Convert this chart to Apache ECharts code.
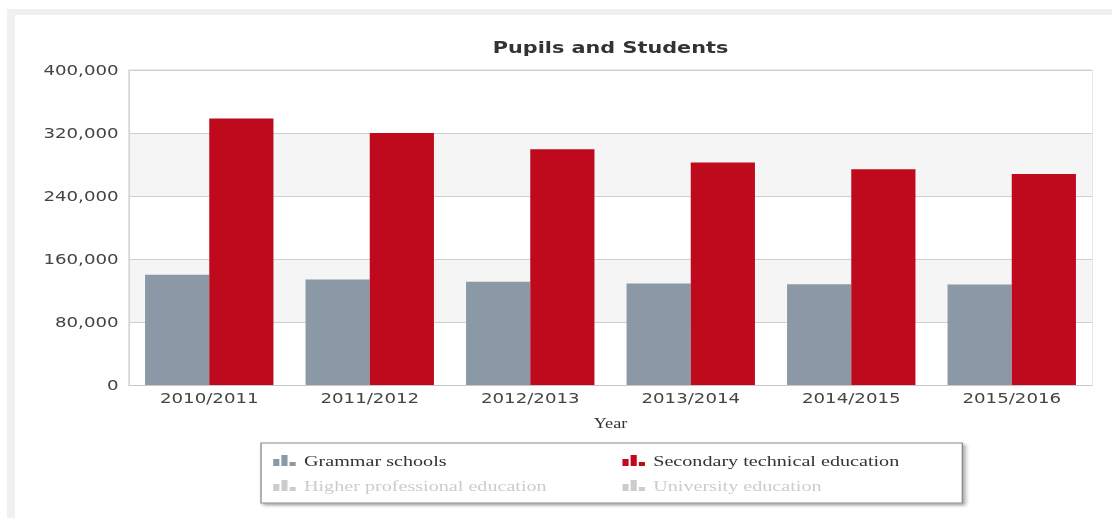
<!DOCTYPE html>
<html>
<head>
<meta charset="utf-8">
<script src="https://cdn.jsdelivr.net/npm/echarts@6/dist/echarts.min.js"></script>
<style>
  html, body { margin: 0; padding: 0; background: #ffffff; width: 1112px; height: 518px; overflow: hidden; }
  #frame { position: absolute; left: 7px; top: 9px; right: 0; bottom: 0; border-top: 6px solid #f0f0f0; border-left: 8px solid #f0f0f0; }
  #chart { position: absolute; left: 0; top: 0; height: 518px; transform-origin: 0 0; }
</style>
</head>
<body>
<div id="frame"></div>
<div id="chart"></div>
<script>
// ---- data ----
const categories = ['2010/2011', '2011/2012', '2012/2013', '2013/2014', '2014/2015', '2015/2016'];
const grammarSchools = [140000, 134000, 131000, 129000, 128000, 127500];
const secondaryTechnical = [338500, 320000, 299500, 282500, 274000, 268000];
const higherProfessional = [];
const universityEducation = [];
const seriesNames = ['Grammar schools', 'Secondary technical education', 'Higher professional education', 'University education'];
const yTicks = { min: 0, max: 400000, interval: 80000 };

// ---- layout (the reference is horizontally stretched) ----
const STRETCH = 1.3;
const W = 1112 / STRETCH;
const el = document.getElementById('chart');
el.style.width = W + 'px';
el.style.transform = 'scaleX(' + STRETCH + ')';

const chart = echarts.init(el, null, { renderer: 'svg', width: W, height: 518 });
const sx = x => x / STRETCH;

const barIcon = 'path://M0,5h6v9h-6z M8,0h6v14h-6z M16,9h6v5h-6z';
const gridLeft = sx(129), gridRight = W - sx(1092);

chart.setOption({
  animation: false,
  backgroundColor: 'transparent',
  title: {
    text: 'Pupils and Students',
    left: (sx(129) + sx(1092)) / 2,
    textAlign: 'center',
    top: 39,
    padding: 0,
    textStyle: { fontFamily: 'DejaVu Sans', fontSize: 16, fontWeight: 'bold', color: '#333' }
  },
  grid: {
    left: gridLeft, right: gridRight, top: 70, bottom: 518 - 385,
    show: true, borderColor: '#dadada', borderWidth: 1, backgroundColor: 'transparent'
  },
  xAxis: {
    type: 'category',
    data: categories,
    name: 'Year',
    nameLocation: 'middle',
    nameGap: 32,
    nameTextStyle: { fontFamily: 'Liberation Serif', fontSize: 14, color: '#333' },
    axisLine: { show: true, lineStyle: { color: '#c8c8c8', width: 1 } },
    axisTick: { show: false },
    axisLabel: { fontFamily: 'DejaVu Sans', fontSize: 14, color: '#444', margin: 6 },
    splitLine: { show: false }
  },
  yAxis: {
    type: 'value',
    min: yTicks.min, max: yTicks.max, interval: yTicks.interval,
    axisLine: { show: true, lineStyle: { color: '#d6d6d6' } },
    axisTick: { show: false },
    axisLabel: { fontFamily: 'DejaVu Sans', fontSize: 14, color: '#444', margin: 8 },
    splitLine: { show: true, lineStyle: { color: '#cfcfcf', width: 1 } },
    splitArea: { show: true, areaStyle: { color: ['#ffffff', '#f5f5f5'] } }
  },
  legend: {
    left: sx(261),
    top: 443,
    width: 545,
    orient: 'horizontal',
    itemWidth: 20,
    itemHeight: 11,
    itemGap: 9,
    padding: [9.5, 1.8, 9.5, 9.4],
    borderColor: '#8a8a8a',
    borderWidth: 1,
    backgroundColor: '#ffffff',
    shadowColor: 'rgba(0,0,0,0.35)',
    shadowBlur: 3,
    shadowOffsetX: 2,
    shadowOffsetY: 2,
    inactiveColor: '#cccccc',
    icon: barIcon,
    data: seriesNames,
    selected: { 'Higher professional education': false, 'University education': false },
    textStyle: { fontFamily: 'Liberation Serif', fontSize: 15.5, color: '#333', width: 236, overflow: 'truncate', lineHeight: 15 }
  },
  series: [
    { name: seriesNames[0], type: 'bar', data: grammarSchools, itemStyle: { color: '#8a99a5' }, barGap: '0%', barCategoryGap: '20%' },
    { name: seriesNames[1], type: 'bar', data: secondaryTechnical, itemStyle: { color: '#bf0a1e' }, barGap: '0%', barCategoryGap: '20%' },
    { name: seriesNames[2], type: 'bar', data: higherProfessional, itemStyle: { color: '#9aa5ae' }, barGap: '0%', barCategoryGap: '20%' },
    { name: seriesNames[3], type: 'bar', data: universityEducation, itemStyle: { color: '#b0b8bf' }, barGap: '0%', barCategoryGap: '20%' }
  ]
});
</script>
</body>
</html>
